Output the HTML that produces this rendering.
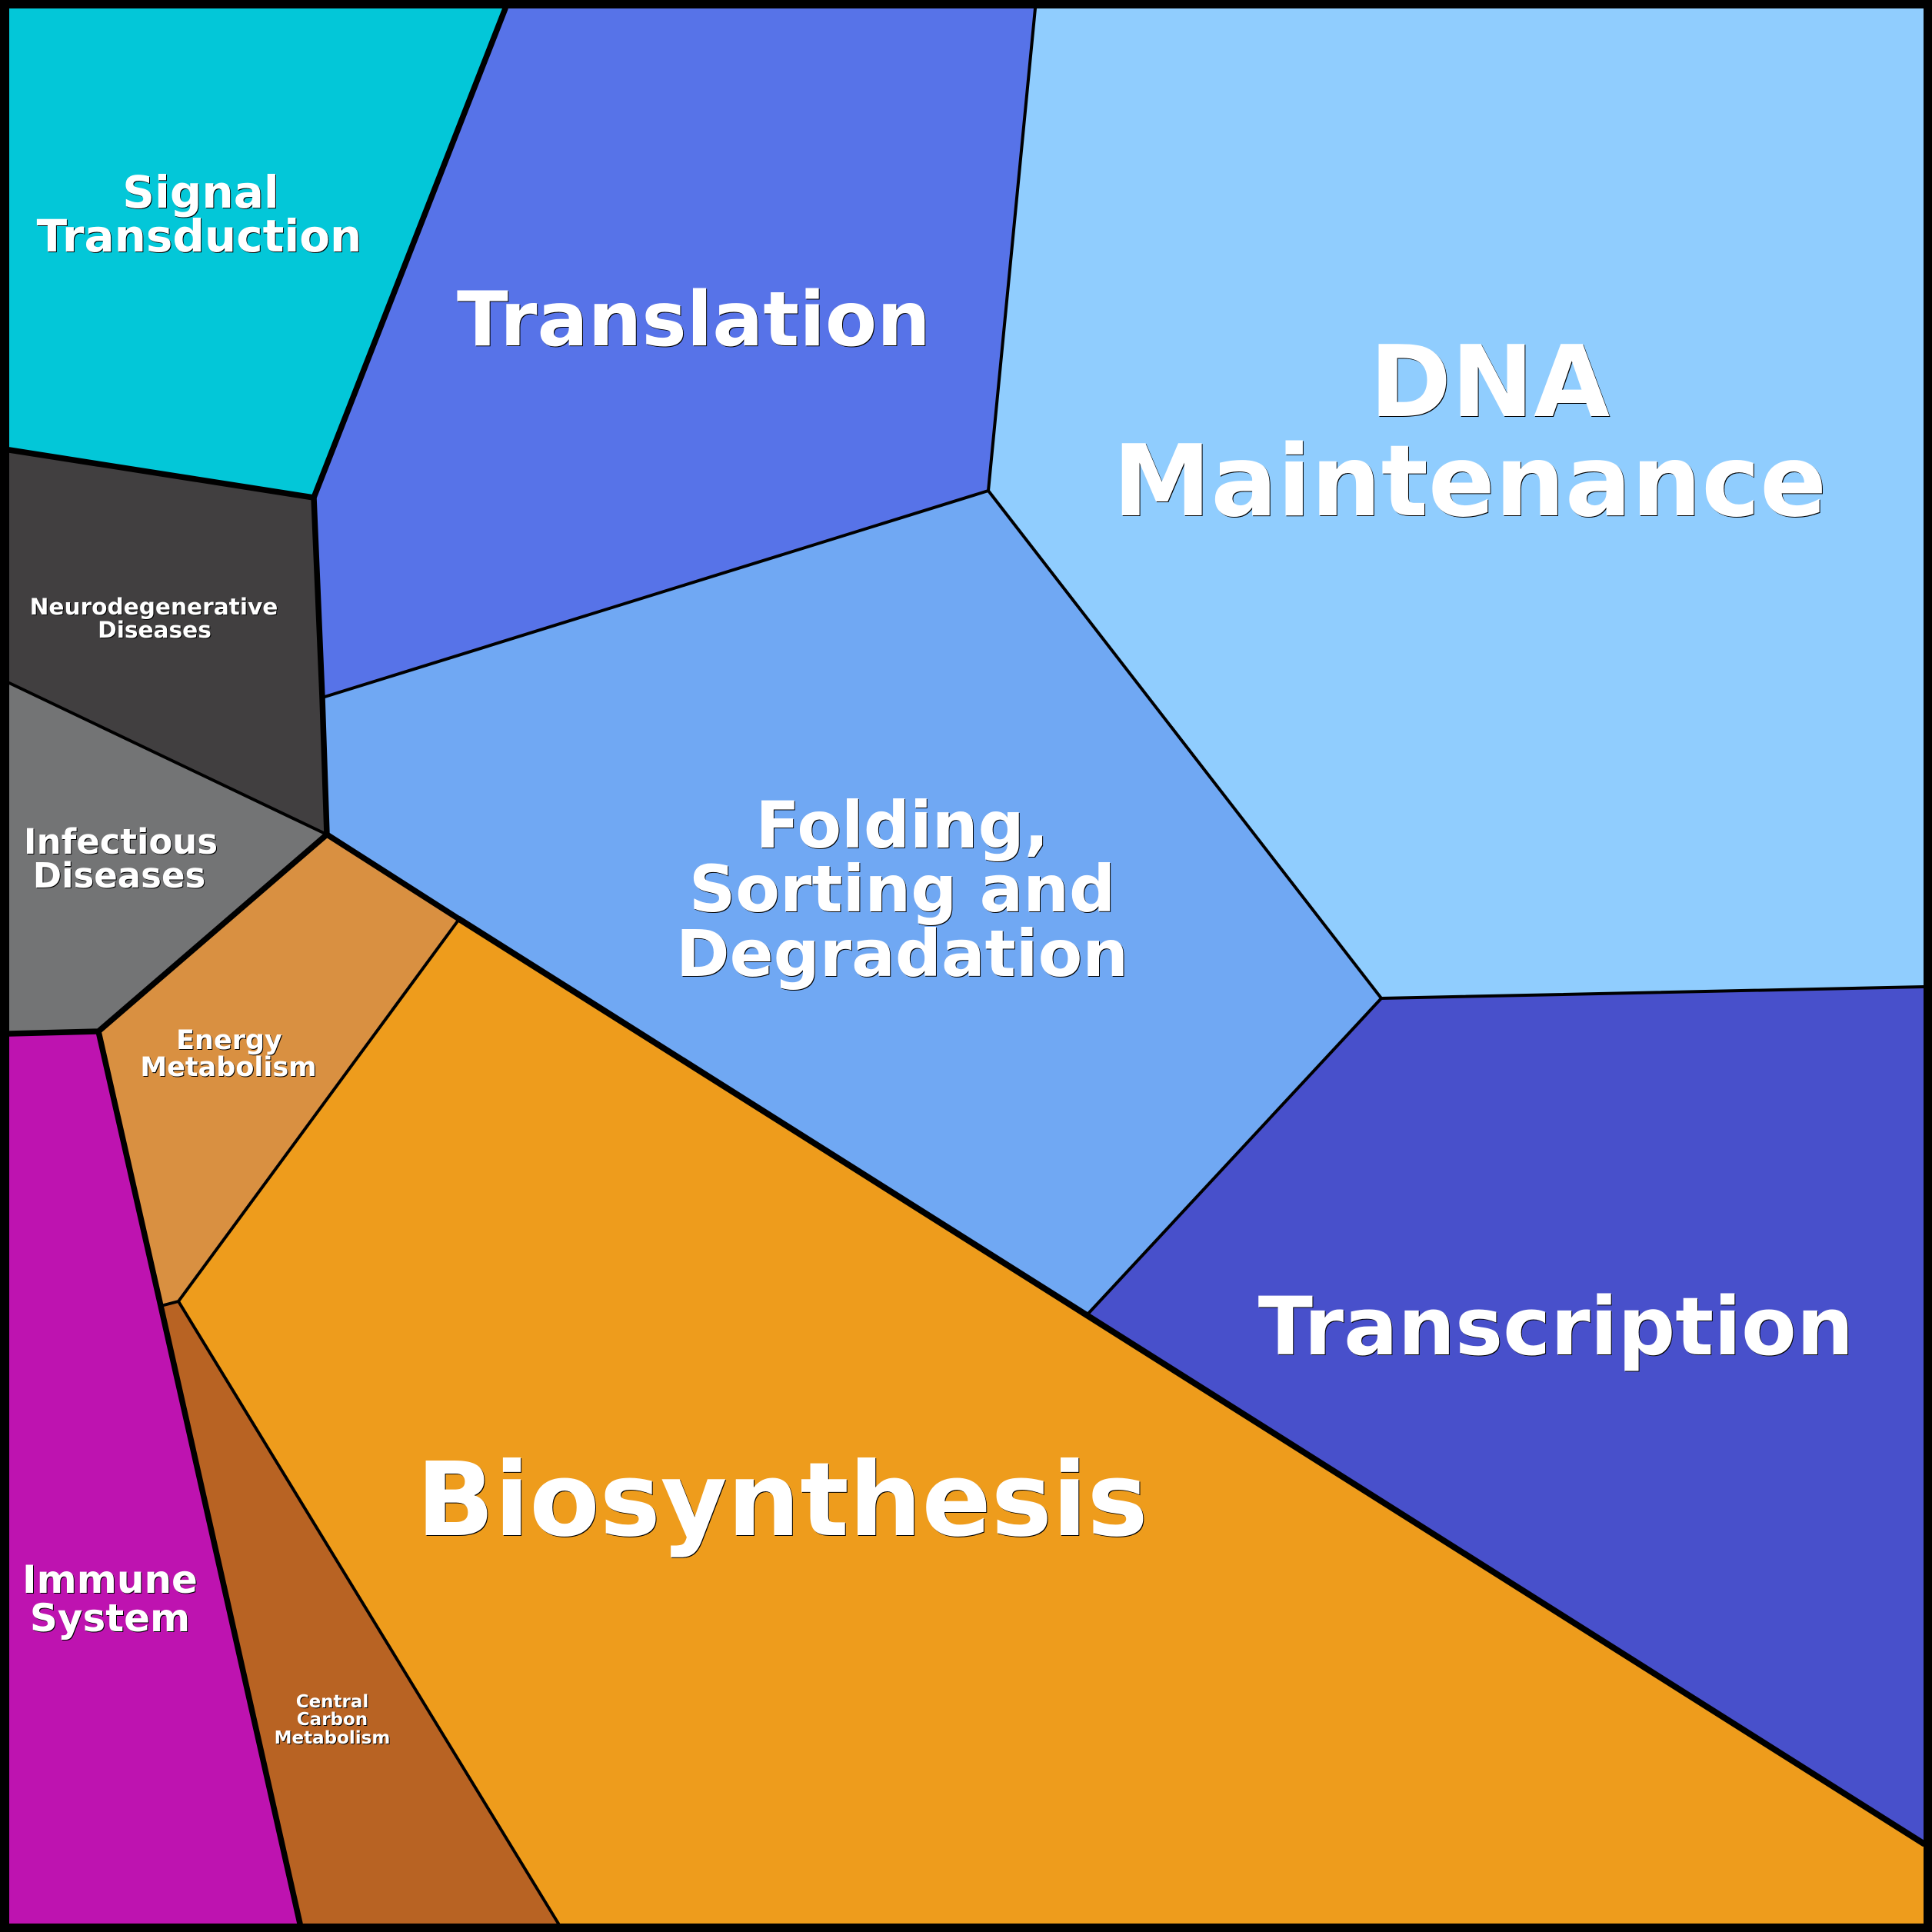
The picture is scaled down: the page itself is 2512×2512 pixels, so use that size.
<!DOCTYPE html>
<html><head><meta charset="utf-8"><style>
html,body{margin:0;padding:0;background:#000}
svg{display:block}
text{font-family:"DejaVu Sans","Liberation Sans",sans-serif;font-weight:700;fill:#fff;text-anchor:middle;filter:drop-shadow(1.5px 1.5px 0 #000)}
.t{stroke:#000;stroke-width:4;fill:none;stroke-linejoin:round;stroke-linecap:round}
.k{stroke:#000;stroke-width:7.5;fill:none;stroke-linejoin:round;stroke-linecap:round}
.x{stroke:#000;stroke-width:8;fill:none;stroke-linejoin:round;stroke-linecap:round}
</style></head><body>
<svg width="2512" height="2512" viewBox="0 0 2512 2512" xmlns="http://www.w3.org/2000/svg">
<rect width="2512" height="2512" fill="#000"/>
<polygon fill="#03c7d8" points="12,11 657,11 408,647 12,585"/>
<polygon fill="#5773e8" points="657,11 1346,11 1285,638 419,907 408,647"/>
<polygon fill="#90cdfe" points="1346,11 2501,11 2501,1283 1796,1298 1285,638"/>
<polygon fill="#70a8f3" points="1285,638 1796,1298 1413,1710 597,1195 425,1085 419,907"/>
<polygon fill="#4850cb" points="1796,1298 2501,1283 2501,2397 1413,1710"/>
<polygon fill="#ee9c1c" points="597,1195 1413,1710 2501,2397 2501,2501 726,2501 232,1692"/>
<polygon fill="#b86323" points="232,1692 726,2501 390,2501 209,1698"/>
<polygon fill="#d99041" points="425,1085 597,1195 232,1692 209,1698 128,1341"/>
<polygon fill="#be13b0" points="12,1344 128,1341 209,1698 390,2501 12,2501"/>
<polygon fill="#413f40" points="12,585 408,647 419,907 425,1085 12,888"/>
<polygon fill="#737475" points="12,888 425,1085 128,1341 12,1344"/>
<polyline class="t" points="1346,11 1285,638 419,907"/>
<polyline class="t" points="1285,638 1796,1298 2501,1283"/>
<polyline class="t" points="1796,1298 1413,1710"/>
<polyline class="t" points="597,1195 232,1692 726,2501"/>
<polyline class="t" points="232,1692 209,1698"/>
<polyline class="t" points="12,888 425,1085"/>
<polyline class="k" points="657,11 408,647 12,585"/>
<polyline class="k" points="408,647 419,907 425,1085 128,1341 12,1344"/>
<polyline class="k" points="128,1341 209,1698 390,2501"/>
<polyline class="k" points="425,1085 597,1195"/>
<polyline class="x" points="597,1195 1413,1710 2501,2397"/>
<text x="261" y="270" font-size="58">Signal</text>
<text x="259" y="327" font-size="58">Transduction</text>
<text x="902" y="449" font-size="98">Translation</text>
<text x="1937" y="541" font-size="128">DNA</text>
<text x="1911" y="670" font-size="128">Maintenance</text>
<text x="1173" y="1102" font-size="84">Folding,</text>
<text x="1173" y="1185" font-size="84">Sorting and</text>
<text x="1173" y="1269" font-size="84">Degradation</text>
<text x="2023" y="1761" font-size="104.5">Transcription</text>
<text x="1017" y="1996" font-size="133">Biosynthesis</text>
<text x="200" y="799" font-size="29.6">Neurodegenerative</text>
<text x="201" y="829" font-size="29.6">Diseases</text>
<text x="157" y="1110" font-size="45">Infectious</text>
<text x="155" y="1154" font-size="45">Diseases</text>
<text x="298" y="1364" font-size="35">Energy</text>
<text x="297" y="1399" font-size="35">Metabolism</text>
<text x="143" y="2071" font-size="50">Immune</text>
<text x="143" y="2121" font-size="50">System</text>
<text x="432" y="2220" font-size="23">Central</text>
<text x="432" y="2243" font-size="23">Carbon</text>
<text x="432" y="2267" font-size="23">Metabolism</text>
</svg>
</body></html>
